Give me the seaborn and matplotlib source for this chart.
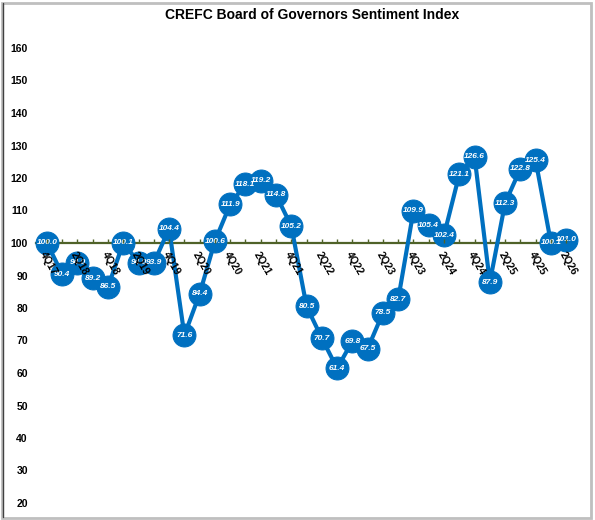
import pandas as pd
import matplotlib.pyplot as plt
import matplotlib.patches as mpatches
import seaborn as sns

# quarterly sentiment index, 4Q17 .. 2Q26
quarters = ['4Q17', '1Q18', '2Q18', '3Q18', '4Q18', '1Q19', '2Q19', '3Q19', '4Q19',
            '1Q20', '2Q20', '3Q20', '4Q20', '1Q21', '2Q21', '3Q21', '4Q21',
            '1Q22', '2Q22', '3Q22', '4Q22', '1Q23', '2Q23', '3Q23', '4Q23',
            '1Q24', '2Q24', '3Q24', '4Q24', '1Q25', '2Q25', '3Q25', '4Q25',
            '1Q26', '2Q26']
index_values = [100.0, 90.4, 94.0, 89.2, 86.5, 100.1, 94.0, 93.9, 104.4,
                71.6, 84.4, 100.6, 111.9, 118.1, 119.2, 114.8, 105.2,
                80.5, 70.7, 61.4, 69.8, 67.5, 78.5, 82.7, 109.9,
                105.4, 102.4, 121.1, 126.6, 87.9, 112.3, 122.8, 125.4,
                100.1, 101.0]
y_ticks = [20, 30, 40, 50, 60, 70, 80, 90, 100, 110, 120, 130, 140, 150, 160]

df = pd.DataFrame({'quarter': quarters, 'index': index_values})
df['pos'] = range(len(df))

sns.set_theme(style='white')
plt.rcParams['font.family'] = ['Liberation Sans', 'DejaVu Sans']

blue = '#0070C0'
green = '#4F6228'

fig = plt.figure(figsize=(5.95, 5.2), dpi=100)
ax = fig.add_axes([35.5 / 595, 1 - 503 / 520, (570 - 35.5) / 595, (503 - 48) / 520])

sns.lineplot(x='pos', y='index', data=df, ax=ax, color=blue, linewidth=3,
             marker='o', markersize=16.5, markeredgecolor=blue, markerfacecolor=blue,
             zorder=3, clip_on=False)

# data labels inside the bubbles
for _, row in df.iterrows():
    ax.text(row['pos'], row['index'], f"{row['index']:.1f}", color='white',
            fontsize=6, fontweight='bold', fontstyle='italic',
            ha='center', va='center', zorder=4)

ax.set_xlim(-0.75, len(df) - 0.75)
ax.set_ylim(20, 160)
ax.set_yticks(y_ticks)
ax.set_yticklabels([str(v) for v in y_ticks], fontsize=7.5, fontweight='bold', color='black')

# x axis sits on the 100 line
ax.spines['bottom'].set_position(('data', 100))
ax.spines['bottom'].set_color(green)
ax.spines['bottom'].set_linewidth(1.6)
for s in ['top', 'right', 'left']:
    ax.spines[s].set_visible(False)

ax.set_xticks(df['pos'][::2])
ax.set_xticks(df['pos'], minor=True)
ax.set_xticklabels(df['quarter'][::2], rotation=-60, ha='left', va='top',
                   rotation_mode='anchor', fontsize=7.5, fontweight='bold', color='black')
ax.tick_params(axis='x', which='both', direction='in', length=3, width=1,
               color=green, pad=5, bottom=True)
ax.tick_params(axis='y', length=0, pad=5.5)
ax.xaxis.set_zorder(5)
ax.set_xlabel('')
ax.set_ylabel('')

fig.text(312 / 595, 1 - 15 / 520, 'CREFC Board of Governors Sentiment Index',
         ha='center', va='center', fontsize=10, fontweight='bold', color='black')

# chart frame
fig.patches.append(mpatches.Rectangle((0.004, 0.004), 0.99, 0.99, transform=fig.transFigure,
                                      fill=False, edgecolor='#BFBFBF', linewidth=2))
fig.lines.append(plt.Line2D([0.005, 0.005], [0.005, 0.994], transform=fig.transFigure,
                            color='#404040', linewidth=1))

fig.savefig('out.png', dpi=100)
